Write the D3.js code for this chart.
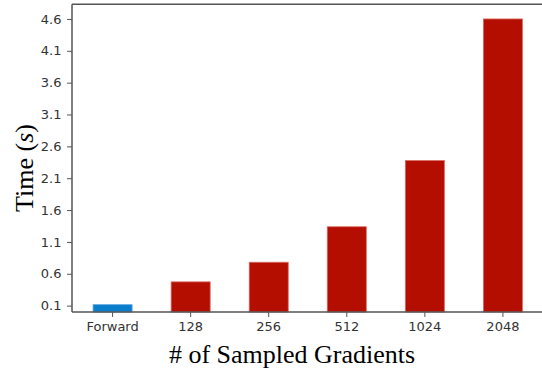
<!DOCTYPE html>
<html>
<head>
<meta charset="utf-8">
<script src="https://cdn.jsdelivr.net/npm/d3@7"></script>
<style>
  body { margin: 0; background: #fff; }
  svg { display: block; }
</style>
</head>
<body>
<svg id="chart" width="542" height="370"></svg>
<script>
// chart data
let categories = ["Forward", "128", "256", "512", "1024", "2048"];
let times = [0.115, 0.473, 0.781, 1.338, 2.377, 4.6];
let barColors = ["#0a7dcc", "#b30e00", "#b30e00", "#b30e00", "#b30e00", "#b30e00"];
let yTicks = [0.1, 0.6, 1.1, 1.6, 2.1, 2.6, 3.1, 3.6, 4.1, 4.6];

let svg = d3.select("#chart");
// plot frame (right edge falls outside the picture)
let plotL = 72, plotR = 543.5, plotT = 4.3, plotB = 312;

let x = d3.scaleBand()
    .domain(categories)
    .range([plotL, plotR])
    .paddingInner(0.5)
    .paddingOuter(0.27);

let y = d3.scaleLinear()
    .domain([0, 4.83])
    .range([plotB, plotT]);

// bars
svg.selectAll("rect.bar")
    .data(categories)
    .enter()
    .append("rect")
    .attr("class", "bar")
    .attr("x", d => x(d))
    .attr("y", (d, i) => y(times[i]))
    .attr("width", x.bandwidth())
    .attr("height", (d, i) => y(0) - y(times[i]))
    .attr("fill", (d, i) => barColors[i])
    .attr("stroke", (d, i) => i == 0 ? "#5aa6e0" : "#d96a60")
    .attr("stroke-width", 0.8);

// y axis
let yAxis = svg.append("g")
    .attr("transform", "translate(" + plotL + ",0)")
    .call(d3.axisLeft(y).tickValues(yTicks).tickFormat(d3.format(".1f")).tickSizeOuter(0).tickSize(5).tickPadding(5.5));

// x axis
let xAxis = svg.append("g")
    .attr("transform", "translate(0," + plotB + ")")
    .call(d3.axisBottom(x).tickSizeOuter(0).tickSize(5).tickPadding(5));

[yAxis, xAxis].forEach(function (g) {
    g.select(".domain").remove();
    g.selectAll(".tick line").attr("stroke", "#555").attr("stroke-width", 1);
    g.selectAll(".tick text")
        .attr("fill", "#333")
        .style("font-family", "DejaVu Sans")
        .style("font-size", "13px");
});

// spines
svg.append("line")
    .attr("x1", plotL).attr("y1", plotT)
    .attr("x2", plotL).attr("y2", plotB)
    .attr("stroke", "#555").attr("stroke-width", 1.5);
svg.append("line")
    .attr("x1", plotL).attr("y1", plotB)
    .attr("x2", 542).attr("y2", plotB)
    .attr("stroke", "#555").attr("stroke-width", 1.5);
svg.append("line")
    .attr("x1", plotL).attr("y1", plotT)
    .attr("x2", 542).attr("y2", plotT)
    .attr("stroke", "#555").attr("stroke-width", 1.5);

// axis titles
svg.append("text")
    .attr("x", 292)
    .attr("y", 363)
    .attr("text-anchor", "middle")
    .style("font-family", "Liberation Serif")
    .style("font-size", "26px")
    .attr("fill", "#000")
    .text("# of Sampled Gradients");

let yt = svg.append("text")
    .attr("transform", "translate(33,168) rotate(-90)")
    .attr("text-anchor", "middle")
    .style("font-family", "Liberation Serif")
    .style("font-size", "26px")
    .attr("fill", "#000");
yt.append("tspan").text("Time (");
yt.append("tspan").style("font-style", "italic").text("s");
yt.append("tspan").text(")");
</script>
</body>
</html>
